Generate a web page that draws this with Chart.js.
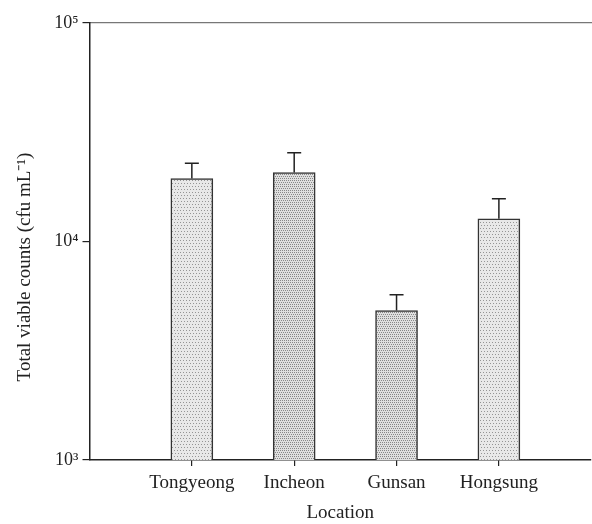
<!DOCTYPE html>
<html>
<head>
    <title>Total viable counts</title>
    <script src="https://cdn.jsdelivr.net/npm/chart.js@4.4.1/dist/chart.umd.min.js"></script>
    <style>
        html, body { margin: 0; padding: 0; background: #ffffff; }
        #chart-container { position: relative; width: 592px; height: 524px; }
    </style>
</head>
<body>
    <div id="chart-container">
        <canvas id="countChart"></canvas>
    </div>
    <script>
        // data
        const locations = ['Tongyeong', 'Incheon', 'Gunsan', 'Hongsung'];
        const counts = [19400, 20700, 4830, 12700];    // cfu mL-1
        const countErrors = [3400, 4800, 870, 3000];   // upper error bar
        const yTickValues = [1000, 10000, 100000];
        const yTickLabels = ['10\u00b3', '10\u2074', '10\u2075'];
        const xTitle = 'Location';
        const yTitle = 'Total viable counts (cfu mL\u207b\u00b9)';

        const serif = '"Liberation Serif", "Times New Roman", serif';
        const ink = '#222';

        // stipple fill like the printed bars
        function makeStipple(base, dot, step) {
            const c = document.createElement('canvas');
            c.width = 6; c.height = 6;
            const g = c.getContext('2d');
            g.fillStyle = base;
            g.fillRect(0, 0, 6, 6);
            g.fillStyle = dot;
            for (let y = 0; y < 6; y += step) {
                for (let x = (y % 4 === 0 ? 0 : 1); x < 6; x += step) {
                    g.fillRect(x, y, 1, 1);
                }
            }
            return document.getElementById('countChart').getContext('2d').createPattern(c, 'repeat');
        }
        const lightFill = makeStipple('#e8e8e8', '#959595', 3);
        const denseFill = makeStipple('#e0e0e0', '#888888', 2);

        const errorBars = {
            id: 'errorBars',
            afterDatasetsDraw(chart) {
                const ctx = chart.ctx;
                const yScale = chart.scales.y;
                const meta = chart.getDatasetMeta(0);
                ctx.save();
                ctx.strokeStyle = ink;
                ctx.lineWidth = 1.5;
                meta.data.forEach((bar, i) => {
                    const top = yScale.getPixelForValue(counts[i] + countErrors[i]);
                    ctx.beginPath();
                    ctx.moveTo(bar.x, bar.y);
                    ctx.lineTo(bar.x, top);
                    ctx.moveTo(bar.x - 7, top);
                    ctx.lineTo(bar.x + 7, top);
                    ctx.stroke();
                });
                ctx.restore();
            }
        };

        const yTitlePlugin = {
            id: 'yTitle',
            afterDraw(chart) {
                const ctx = chart.ctx;
                ctx.save();
                ctx.translate(25, 267);
                ctx.rotate(-Math.PI / 2);
                ctx.font = '19px ' + serif;
                ctx.fillStyle = ink;
                ctx.textAlign = 'center';
                ctx.textBaseline = 'middle';
                ctx.fillText(yTitle, 0, 0);
                ctx.restore();
            }
        };

        const ctx = document.getElementById('countChart').getContext('2d');
        new Chart(ctx, {
            type: 'bar',
            data: {
                datasets: [{
                    data: locations.map((name, i) => ({ x: i + 1, y: counts[i] })),
                    backgroundColor: [lightFill, denseFill, denseFill, lightFill],
                    borderColor: '#333',
                    borderWidth: 1.5,
                    borderSkipped: 'bottom',
                    barThickness: 42
                }]
            },
            options: {
                responsive: true,
                maintainAspectRatio: false,
                animation: false,
                layout: { padding: { top: 23, right: 1, left: 0, bottom: 0 } },
                plugins: {
                    legend: { display: false },
                    tooltip: { enabled: false }
                },
                scales: {
                    x: {
                        type: 'linear',
                        offset: false,
                        min: 0,
                        max: 4.9,
                        afterBuildTicks: (axis) => {
                            axis.ticks = locations.map((n, i) => ({ value: i + 1 }));
                        },
                        afterFit: (axis) => { axis.height = 64; },
                        ticks: {
                            callback: (v) => locations[v - 1],
                            font: { family: serif, size: 19 },
                            color: ink,
                            padding: 6,
                            maxRotation: 0
                        },
                        grid: {
                            offset: false,
                            drawOnChartArea: false,
                            tickLength: 6,
                            color: ink,
                            lineWidth: 1.2
                        },
                        border: { color: ink, width: 1.5 },
                        title: {
                            display: true,
                            text: xTitle,
                            font: { family: serif, size: 19 },
                            color: ink,
                            padding: { top: 4, bottom: 0 }
                        }
                    },
                    top: {
                        type: 'linear',
                        position: 'top',
                        offset: false,
                        min: 0,
                        max: 4.9,
                        afterFit: (axis) => { axis.height = 0; },
                        ticks: { display: false },
                        grid: { display: false },
                        border: { color: '#777', width: 1.2 }
                    },
                    y: {
                        type: 'logarithmic',
                        min: 1000,
                        max: 100000,
                        afterBuildTicks: (axis) => {
                            axis.ticks = yTickValues.map(v => ({ value: v }));
                        },
                        afterFit: (axis) => { axis.width = 89.5; },
                        ticks: {
                            callback: (v) => yTickLabels[yTickValues.indexOf(v)],
                            font: { family: serif, size: 18 },
                            color: ink,
                            padding: 4
                        },
                        grid: {
                            drawOnChartArea: false,
                            tickLength: 7,
                            color: ink,
                            lineWidth: 1.2
                        },
                        border: { color: ink, width: 1.5 }
                    }
                }
            },
            plugins: [errorBars, yTitlePlugin]
        });
    </script>
</body>
</html>
